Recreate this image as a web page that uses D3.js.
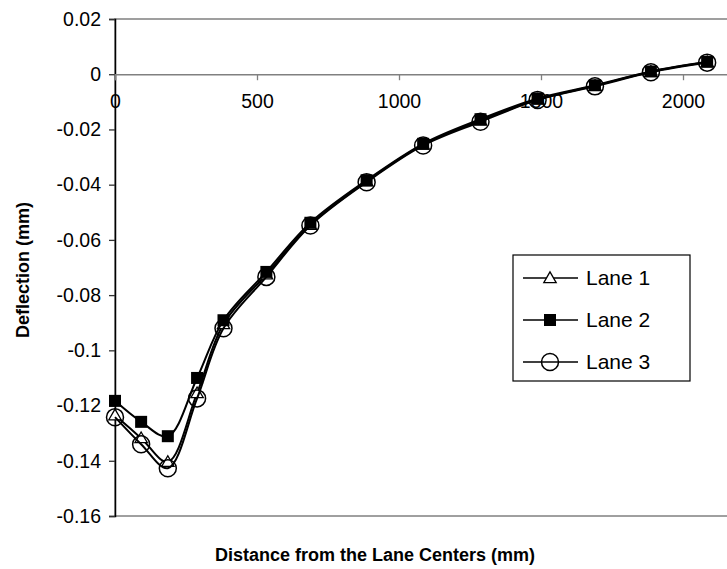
<!DOCTYPE html>
<html>
<head>
<meta charset="utf-8">
<script src="https://cdn.jsdelivr.net/npm/d3@7"></script>
<style>
  body { margin: 0; background: #fff; }
  text { font-family: Arial, "Liberation Sans", sans-serif; }
</style>
</head>
<body>
<div id="chart"></div>
<script>
// distances from lane centers (mm)
var distances = [0, 92, 186, 289, 382, 533, 688, 886, 1085, 1287, 1488, 1690, 1887, 2085];

var lane1 = [-0.1235, -0.1318, -0.1404, -0.1155, -0.0905, -0.0725, -0.0545, -0.0388, -0.0255, -0.0168, -0.0092, -0.0042, 0.0009, 0.0044];
var lane2 = [-0.1183, -0.1259, -0.1311, -0.1100, -0.0891, -0.0716, -0.0538, -0.0384, -0.0252, -0.0163, -0.0088, -0.0040, 0.0010, 0.0045];
var lane3 = [-0.1242, -0.1340, -0.1427, -0.1174, -0.0920, -0.0734, -0.0548, -0.0391, -0.0258, -0.0172, -0.0093, -0.0044, 0.0007, 0.0042];

var seriesNames = ["Lane 1", "Lane 2", "Lane 3"];

var yTicks = [0.02, 0, -0.02, -0.04, -0.06, -0.08, -0.1, -0.12, -0.14, -0.16];
var yTickLabels = ["0.02", "0", "-0.02", "-0.04", "-0.06", "-0.08", "-0.1", "-0.12", "-0.14", "-0.16"];
var xTicks = [0, 500, 1000, 1500, 2000];
var xTickLabels = ["0", "500", "1000", "1500", "2000"];

var W = 727, H = 569;

var svg = d3.select("#chart")
    .append("svg")
        .attr("width", W)
        .attr("height", H);

var x = d3.scaleLinear()
        .domain([0, 2500])
        .range([115, 825]);

var y = d3.scaleLinear()
        .domain([-0.16, 0.02])
        .range([516, 19]);

// plot area border (right side falls outside the picture)
svg.append("rect")
    .attr("x", x(0))
    .attr("y", y(0.02))
    .attr("width", 800)
    .attr("height", y(-0.16) - y(0.02))
    .attr("fill", "none")
    .attr("stroke", "#808080")
    .attr("stroke-width", 1.5);

// y axis
var yAxis = svg.append("g")
    .attr("class", "y-axis")
    .attr("transform", "translate(" + x(0) + ",0)")
    .call(d3.axisLeft(y)
        .tickValues(yTicks)
        .tickSize(6)
        .tickPadding(8)
        .tickFormat(function(d, i) { return yTickLabels[i]; }));

yAxis.select(".domain").attr("stroke", "#000").attr("stroke-width", 1.5);
yAxis.selectAll(".tick line").attr("stroke", "#333").attr("stroke-width", 1.3);
yAxis.selectAll(".tick text")
    .attr("font-size", 19.5)
    .attr("fill", "#000")
    .attr("font-family", "Arial, 'Liberation Sans', sans-serif");

// x axis sits on the zero line
var xAxis = svg.append("g")
    .attr("class", "x-axis")
    .attr("transform", "translate(0," + y(0) + ")")
    .call(d3.axisBottom(x)
        .tickValues(xTicks)
        .tickSize(6)
        .tickPadding(14)
        .tickFormat(function(d, i) { return xTickLabels[i]; }));

xAxis.select(".domain").attr("stroke", "#808080").attr("stroke-width", 1.5);
xAxis.selectAll(".tick line").attr("stroke", "#808080").attr("stroke-width", 1.3);
xAxis.selectAll(".tick text")
    .attr("font-size", 19.5)
    .attr("fill", "#000")
    .attr("font-family", "Arial, 'Liberation Sans', sans-serif");

// axis titles
svg.append("text")
    .attr("x", 375)
    .attr("y", 561)
    .attr("text-anchor", "middle")
    .attr("font-size", 18)
    .attr("font-weight", "bold")
    .text("Distance from the Lane Centers (mm)");

svg.append("text")
    .attr("transform", "translate(29,270) rotate(-90)")
    .attr("text-anchor", "middle")
    .attr("font-size", 18)
    .attr("font-weight", "bold")
    .text("Deflection (mm)");

var line = d3.line()
    .x(function(d) { return x(d[0]); })
    .y(function(d) { return y(d[1]); })
    .curve(d3.curveCatmullRom.alpha(0.5));

function drawMarker(g, kind, cx, cy) {
    if (kind == "triangle") {
        g.append("path")
            .attr("d", d3.symbol().type(d3.symbolTriangle).size(66)())
            .attr("transform", "translate(" + cx + "," + (cy + 1) + ")")
            .attr("fill", "#fff")
            .attr("stroke", "#000")
            .attr("stroke-width", 1.3);
    } else if (kind == "square") {
        g.append("rect")
            .attr("x", cx - 6).attr("y", cy - 6)
            .attr("width", 12).attr("height", 12)
            .attr("fill", "#000");
    } else {
        g.append("circle")
            .attr("cx", cx).attr("cy", cy)
            .attr("r", 8.5)
            .attr("fill", "none")
            .attr("stroke", "#000")
            .attr("stroke-width", 1.5);
    }
}

var lanes = [lane1, lane2, lane3];
var kinds = ["triangle", "square", "circle"];

lanes.forEach(function(vals, k) {
    var data = distances.map(function(d, i) { return [d, vals[i]]; });
    var g = svg.append("g").attr("class", "lane");
    g.append("path")
        .datum(data)
        .attr("d", line)
        .attr("fill", "none")
        .attr("stroke", "#000")
        .attr("stroke-width", 2);
    data.forEach(function(d) {
        drawMarker(g, kinds[k], x(d[0]), y(d[1]));
    });
});

// legend
var legend = svg.append("g").attr("class", "legend");
legend.append("rect")
    .attr("x", 513).attr("y", 255)
    .attr("width", 177).attr("height", 126)
    .attr("fill", "#fff")
    .attr("stroke", "#000")
    .attr("stroke-width", 1.2);

seriesNames.forEach(function(name, i) {
    var ly = 278 + i * 42;
    legend.append("line")
        .attr("x1", 523).attr("x2", 578)
        .attr("y1", ly).attr("y2", ly)
        .attr("stroke", "#000")
        .attr("stroke-width", 1.5);
    drawMarker(legend, kinds[i], 550, ly);
    legend.append("text")
        .attr("x", 586)
        .attr("y", ly + 7)
        .attr("font-size", 21)
        .text(name);
});
</script>
</body>
</html>
